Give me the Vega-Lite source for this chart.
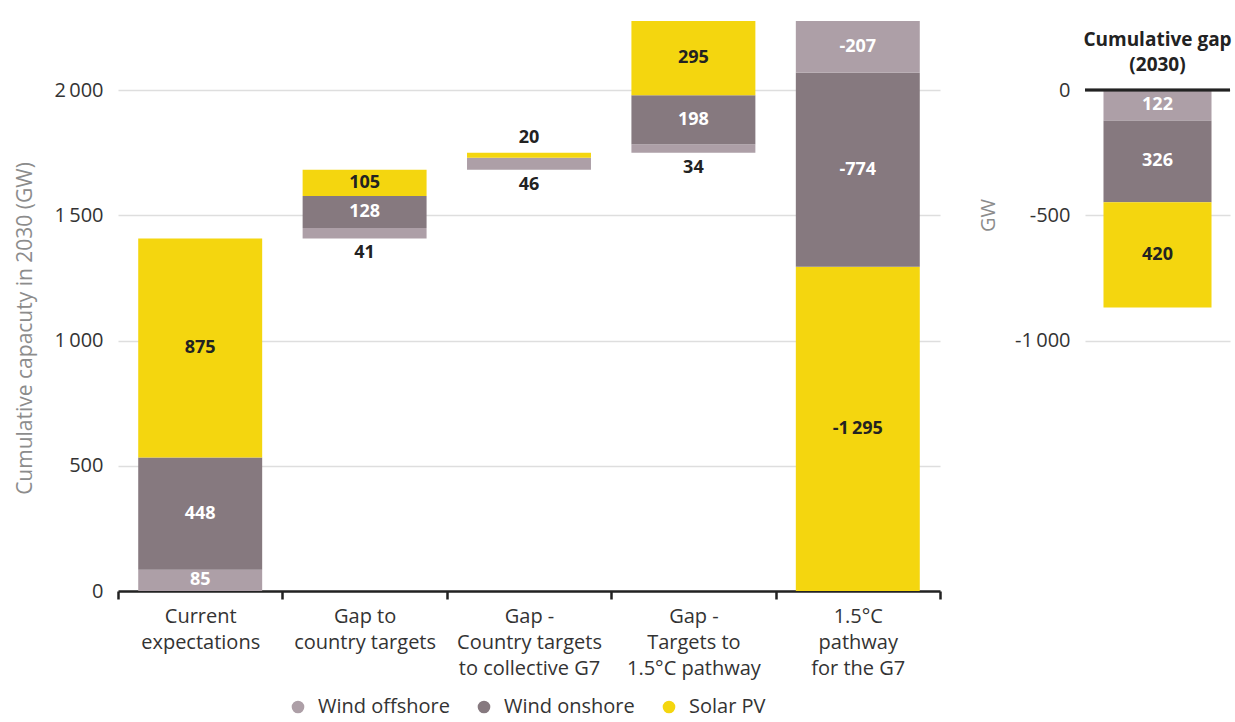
{
  "$schema": "https://vega.github.io/schema/vega-lite/v6.json",
  "padding": {"left": 14, "top": 20, "right": 0, "bottom": 5},
  "config": {
    "view": {"stroke": null},
    "font": "Open Sans",
    "concat": {"spacing": 36}
  },
  "datasets": {
    "main": [
      {"cat": "Current|expectations", "type": "Wind offshore", "y0": 0, "y1": 85, "label": "85", "pos": "in"},
      {"cat": "Current|expectations", "type": "Wind onshore", "y0": 85, "y1": 533, "label": "448", "pos": "in"},
      {"cat": "Current|expectations", "type": "Solar PV", "y0": 533, "y1": 1408, "label": "875", "pos": "in"},
      {"cat": "Gap to|country targets", "type": "Wind offshore", "y0": 1408, "y1": 1449, "label": "41", "pos": "below"},
      {"cat": "Gap to|country targets", "type": "Wind onshore", "y0": 1449, "y1": 1577, "label": "128", "pos": "in"},
      {"cat": "Gap to|country targets", "type": "Solar PV", "y0": 1577, "y1": 1682, "label": "105", "pos": "in"},
      {"cat": "Gap -|Country targets|to collective G7", "type": "Wind offshore", "y0": 1682, "y1": 1730, "label": "46", "pos": "below"},
      {"cat": "Gap -|Country targets|to collective G7", "type": "Solar PV", "y0": 1730, "y1": 1750, "label": "20", "pos": "above"},
      {"cat": "Gap -|Targets to|1.5°C pathway", "type": "Wind offshore", "y0": 1750, "y1": 1784, "label": "34", "pos": "below"},
      {"cat": "Gap -|Targets to|1.5°C pathway", "type": "Wind onshore", "y0": 1784, "y1": 1980, "label": "198", "pos": "in"},
      {"cat": "Gap -|Targets to|1.5°C pathway", "type": "Solar PV", "y0": 1980, "y1": 2276, "label": "295", "pos": "in"},
      {"cat": "1.5°C|pathway|for the G7", "type": "Solar PV", "y0": 0, "y1": 1295, "label": "-1\u2009295", "pos": "in"},
      {"cat": "1.5°C|pathway|for the G7", "type": "Wind onshore", "y0": 1295, "y1": 2069, "label": "-774", "pos": "in"},
      {"cat": "1.5°C|pathway|for the G7", "type": "Wind offshore", "y0": 2069, "y1": 2276, "label": "-207", "pos": "in"}
    ],
    "gap": [
      {"cat": "Cumulative gap (2030)", "type": "Wind offshore", "y0": -122, "y1": 0, "label": "122", "pos": "in"},
      {"cat": "Cumulative gap (2030)", "type": "Wind onshore", "y0": -448, "y1": -122, "label": "326", "pos": "in"},
      {"cat": "Cumulative gap (2030)", "type": "Solar PV", "y0": -868, "y1": -448, "label": "420", "pos": "in"}
    ]
  },
  "resolve": {"scale": {"y": "independent", "x": "independent", "color": "independent"}, "legend": {"color": "independent"}},
  "hconcat": [
    {
      "width": 822,
      "height": 571,
      "data": {"name": "main"},
      "layer": [
        {
          "mark": {"type": "bar", "width": {"band": 0.754}},
          "encoding": {
            "x": {
              "field": "cat", "type": "nominal", "sort": null,
              "scale": {"domain": ["Current|expectations", "Gap to|country targets", "Gap -|Country targets|to collective G7", "Gap -|Targets to|1.5°C pathway", "1.5°C|pathway|for the G7"], "paddingInner": 0, "paddingOuter": 0},
              "axis": {
                "title": null, "labelAngle": 0, "labelExpr": "split(datum.label, '|')",
                "labelFontSize": 20, "labelColor": "#333333", "labelLineHeight": 26, "labelPadding": 7,
                "domain": true, "domainColor": "#222222", "domainWidth": 2.5,
                "ticks": true, "tickBand": "extent", "tickColor": "#222222", "tickWidth": 2.5, "tickSize": 8,
                "grid": false
              }
            },
            "y": {
              "field": "y0", "type": "quantitative",
              "scale": {"domain": [0, 2280], "nice": false, "zero": false},
              "axis": {
                "title": "Cumulative capacuty in 2030 (GW)", "values": [0, 500, 1000, 1500, 2000],
                "labelExpr": "replace(replace(format(datum.value, ','), ',', '\u2009'), '\u2212', '-')",
                "labelFontSize": 20, "labelColor": "#333333", "labelPadding": 15,
                "domain": false, "ticks": false, "grid": true, "gridColor": "#dedede", "gridWidth": 1.5,
                "titleColor": "#8c8c8c", "titleFontSize": 21, "titleFontWeight": "normal", "titlePadding": 18, "titleY": 308
              }
            },
            "y2": {"field": "y1"},
            "color": {
              "field": "type", "type": "nominal",
              "scale": {"domain": ["Wind offshore", "Wind onshore", "Solar PV"], "range": ["#ad9fa7", "#86797f", "#f4d60f"]},
              "legend": {
                "title": null, "orient": "none", "direction": "horizontal", "legendX": 170, "legendY": 677, "padding": 0,
                "symbolType": "circle", "symbolSize": 160, "symbolStrokeWidth": 0, "labelFontSize": 20, "labelColor": "#333333",
                "labelOffset": 10, "columnPadding": 24
              }
            }
          }
        },
        {
          "transform": [
            {"filter": "datum.pos === 'in'"},
            {"fold": ["y0", "y1"], "as": ["k", "v"]},
            {"aggregate": [{"op": "mean", "field": "v", "as": "mid"}], "groupby": ["cat", "type", "label"]}
          ],
          "mark": {"type": "text", "fontWeight": "bold", "fontSize": 18, "baseline": "middle"},
          "encoding": {
            "x": {"field": "cat", "type": "nominal", "sort": null},
            "y": {"field": "mid", "type": "quantitative"},
            "text": {"field": "label"},
            "color": {"condition": {"test": "datum.type === 'Solar PV'", "value": "#222222"}, "value": "#ffffff"}
          }
        },
        {
          "transform": [{"filter": "datum.pos === 'below'"}],
          "mark": {"type": "text", "fontWeight": "bold", "fontSize": 18, "baseline": "middle", "dy": 15, "color": "#222222"},
          "encoding": {
            "x": {"field": "cat", "type": "nominal", "sort": null},
            "y": {"field": "y0", "type": "quantitative"},
            "text": {"field": "label"}
          }
        },
        {
          "transform": [{"filter": "datum.pos === 'above'"}],
          "mark": {"type": "text", "fontWeight": "bold", "fontSize": 18, "baseline": "middle", "dy": -15, "color": "#222222"},
          "encoding": {
            "x": {"field": "cat", "type": "nominal", "sort": null},
            "y": {"field": "y1", "type": "quantitative"},
            "text": {"field": "label"}
          }
        }
      ]
    },
    {
      "width": 145,
      "height": 571,
      "data": {"name": "gap"},
      "layer": [
        {
          "mark": {"type": "bar", "width": {"band": 0.745}},
          "encoding": {
            "x": {"field": "cat", "type": "nominal", "scale": {"paddingInner": 0, "paddingOuter": 0}, "axis": null},
            "y": {
              "field": "y0", "type": "quantitative",
              "scale": {"domain": [-2000, 280], "nice": false, "zero": false},
              "axis": {
                "title": "GW", "values": [-1000, -500, 0],
                "labelExpr": "replace(replace(format(datum.value, ','), ',', '\u2009'), '\u2212', '-')",
                "labelFontSize": 20, "labelColor": "#333333", "labelPadding": 15,
                "domain": false, "ticks": false, "grid": true, "gridColor": "#dedede", "gridWidth": 1.5,
                "titleColor": "#8c8c8c", "titleFontSize": 20, "titleFontWeight": "normal", "titlePadding": 16, "titleY": 195
              }
            },
            "y2": {"field": "y1"},
            "color": {
              "field": "type", "type": "nominal",
              "scale": {"domain": ["Wind offshore", "Wind onshore", "Solar PV"], "range": ["#ad9fa7", "#86797f", "#f4d60f"]},
              "legend": null
            }
          }
        },
        {
          "mark": {"type": "rule", "color": "#222222", "strokeWidth": 2.5},
          "encoding": {"y": {"datum": 0}}
        },
        {
          "transform": [
            {"fold": ["y0", "y1"], "as": ["k", "v"]},
            {"aggregate": [{"op": "mean", "field": "v", "as": "mid"}], "groupby": ["cat", "type", "label"]}
          ],
          "mark": {"type": "text", "fontWeight": "bold", "fontSize": 18, "baseline": "middle"},
          "encoding": {
            "x": {"field": "cat", "type": "nominal"},
            "y": {"field": "mid", "type": "quantitative"},
            "text": {"field": "label"},
            "color": {"condition": {"test": "datum.type === 'Solar PV'", "value": "#222222"}, "value": "#ffffff"}
          }
        },
        {
          "data": {"values": [{"level": 202}]},
          "mark": {"type": "text", "text": ["Cumulative gap", "(2030)"], "fontWeight": "bold", "fontSize": 19, "baseline": "middle", "lineHeight": 25, "color": "#222222"},
          "encoding": {
            "y": {"field": "level", "type": "quantitative"}
          }
        }
      ]
    }
  ]
}
